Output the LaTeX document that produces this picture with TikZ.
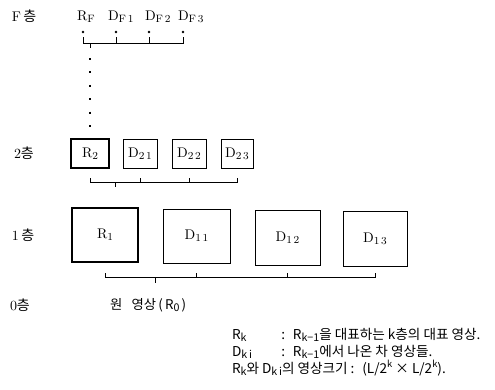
\documentclass[tikz,border=0pt]{standalone}
\usepackage{fontspec}
\newfontfamily\kr{Noto Sans CJK KR}
\usetikzlibrary{calc}
\newcommand{\lsub}[1]{\raisebox{-0.3ex}{\footnotesize #1}}
\newcommand{\lsup}[1]{\raisebox{0.7ex}{\scriptsize #1}}
\begin{document}
\begin{tikzpicture}[x=0.75pt,y=-0.75pt,
  every node/.style={inner sep=0pt, outer sep=0pt},
  lay/.style={anchor=west, font=\fontsize{10.5}{12}\selectfont},
  lbl/.style={anchor=west, font=\fontsize{10.5}{12}\selectfont},
  leg/.style={anchor=west, font=\kr\fontsize{10.2}{12}\selectfont, text height=7.5pt, text depth=1.5pt},
  rbox/.style={draw, line width=1.1pt, font=\fontsize{10.5}{12}\selectfont},
  dbox/.style={draw, line width=0.6pt, font=\fontsize{10.5}{12}\selectfont},
  dotn/.style={circle, fill, minimum size=2pt},
  brk/.style={line width=0.6pt},
  dotline/.style={line width=1.5pt, dash pattern=on 1.5pt off 8.55pt, dash phase=2.55pt}
]
\useasboundingbox (0,0) rectangle (495,389);

% layer labels
\node[lay] (lf) at (12,16) {F{\kr\,층}};
\node[lay] (l2) at (14,153) {2{\kr 층}};
\node[lay] (l1) at (12,235) {1{\kr\,층}};
\node[lay] (l0) at (10,305) {0{\kr 층}};

% top layer
\node[lbl] (tRF) at (77,17) {R\lsub{F}};
\node[lbl] (tD1) at (108,17) {D\lsub{F\,1}};
\node[lbl] (tD2) at (145,17) {D\lsub{F\,2}};
\node[lbl] (tD3) at (178,17) {D\lsub{F\,3}};
\node[dotn] (rfd) at (83,32) {};
\node[dotn] (d1d) at (116,32) {};
\node[dotn] (d2d) at (149,32) {};
\node[dotn] (d3d) at (183,32) {};
\coordinate (tbt) at (0,37);
\coordinate (tbh) at (0,43);
\coordinate (ftop) at (90,43);
\coordinate (ft) at (90,48);

% layer 2
\node[rbox, minimum width=28.5pt, minimum height=21.75pt] (r2) at (90,153.5) {R\lsub{2}};
\node[dbox, minimum width=25.5pt, minimum height=21.75pt] (d21) at (140,153.5) {D\lsub{2\,1}};
\node[dbox, minimum width=25.5pt, minimum height=21.75pt] (d22) at (189,153.5) {D\lsub{2\,2}};
\node[dbox, minimum width=24pt, minimum height=21.75pt] (d23) at (237,153.5) {D\lsub{2\,3}};
\coordinate (b2t) at (0,178);
\coordinate (b2h) at (0,182);
\coordinate (b2m) at (115,182);
\coordinate (b2e) at (115,187);

% layer 1
\node[rbox, minimum width=49.5pt, minimum height=40.5pt] (r1) at (105,235) {R\lsub{1}};
\node[dbox, minimum width=50.25pt, minimum height=40.5pt] (d11) at (196.5,236) {D\lsub{1\,1}};
\node[dbox, minimum width=48.75pt, minimum height=41.25pt] (d12) at (287.5,237.5) {D\lsub{1\,2}};
\node[dbox, minimum width=48pt, minimum height=41.25pt] (d13) at (375,238.5) {D\lsub{1\,3}};
\coordinate (b1t) at (0,273);
\coordinate (b1h) at (0,277);
\coordinate (b1m) at (155,277);
\coordinate (b1e) at (155,283);

% layer 0
\node[leg, font=\kr\fontsize{10}{12}\selectfont] (orig) at (110,305) {원\hspace{7pt}영상\,(\,R\lsub{0}\,)};

% brackets
\draw[brk] (rfd |- tbt) -- (rfd |- tbh) -- (d3d |- tbh) -- (d3d |- tbt);
\draw[brk] (d1d |- tbt) -- (d1d |- tbh);
\draw[brk] (d2d |- tbt) -- (d2d |- tbh);
\draw[brk] (ftop) -- (ft);
\draw[dotline] (ft) -- (r2.north);

\draw[brk] (r2.south |- b2t) -- (r2.south |- b2h) -- (d23.south |- b2h) -- (d23.south |- b2t);
\draw[brk] (d21.south |- b2t) -- (d21.south |- b2h);
\draw[brk] (d22.south |- b2t) -- (d22.south |- b2h);
\draw[brk] (b2m) -- (b2e);

\draw[brk] (r1.south |- b1t) -- (r1.south |- b1h) -- (d13.south |- b1h) -- (d13.south |- b1t);
\draw[brk] (d11.south |- b1t) -- (d11.south |- b1h);
\draw[brk] (d12.south |- b1t) -- (d12.south |- b1h);
\draw[brk] (b1m) -- (b1e);

% legend
\node[leg] (lg1) at (232,335) {\makebox[37pt][l]{R\lsub{k}}:\; R\lsub{k−1}을 대표하는 k층의 대표 영상.};
\node[leg] (lg2) at (232,352) {\makebox[37pt][l]{D\lsub{k\,i}}:\; R\lsub{k−1}에서 나온 차 영상들.};
\node[leg] (lg3) at (232,369) {R\lsub{k}와 D\lsub{k\,i}의 영상크기 :\; (L/2\lsup{k} × L/2\lsup{k}).};
\end{tikzpicture}
\end{document}
